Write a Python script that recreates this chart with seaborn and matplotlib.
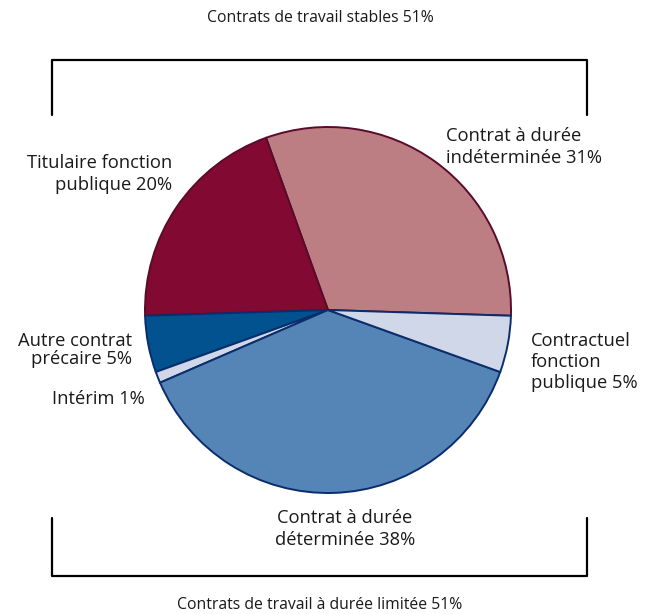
import matplotlib
matplotlib.use("Agg")
import matplotlib.pyplot as plt
import seaborn as sns

# ==================== Data ====================
LABELS = ["Contrat à durée\nindéterminée 31%", "Titulaire fonction\npublique 20%",
          "Autre contrat\nprécaire 5%", "Intérim 1%",
          "Contrat à durée\ndéterminée 38%", "Contractuel\nfonction\npublique 5%"]
SHARES = [31, 20, 5, 1, 38, 5]
COLORS = ["#BC7E82", "#820A32", "#01528F", "#D0D7E8", "#5584B7", "#D0D7E8"]
EDGES = ["#5A0A2A", "#5A0A2A", "#0A2D6B", "#0A2D6B", "#0A2D6B", "#0A2D6B"]
TITLE_TOP = "Contrats de travail stables 51%"
TITLE_BOTTOM = "Contrats de travail à durée limitée 51%"

# ==================== Style ====================
sns.set_theme(style="white")
plt.rcParams["font.family"] = ["Open Sans", "DejaVu Sans"]
FS_LABEL = 13.2
FS_TITLE = 11.3

W, H = 645, 614
fig = plt.figure(figsize=(W / 100, H / 100), dpi=100)
ax = fig.add_axes([0, 0, 1, 1])

wedges, _ = ax.pie(SHARES, colors=COLORS, startangle=-1.8, counterclock=True,
                   center=(328, H - 310), radius=183, frame=True,
                   wedgeprops=dict(linewidth=1.4))
for w, ec in zip(wedges, EDGES):
    w.set_edgecolor(ec)
ax.set_xlim(0, W)
ax.set_ylim(0, H)
ax.set_aspect("equal")
ax.axis("off")

# label placement (pixel positions, measured from top)
label_pos = [
    (446, 147, "left", 1.3),
    (172, 174, "right", 1.3),
    (132, 350, "right", 0.95),
    (145, 399, "right", 1.2),
    (345, 529, "center", 1.3),
    (531, 362, "left", 1.2),
]
for txt, (x, y, ha, ls) in zip(LABELS, label_pos):
    ax.text(x, H - y, txt, ha=ha, va="center", fontsize=FS_LABEL, color="#1a1a1a",
            linespacing=ls, multialignment=ha)

ax.text(320, H - 18, TITLE_TOP, ha="center", va="center", fontsize=FS_TITLE, color="#1a1a1a")
ax.text(320, H - 605, TITLE_BOTTOM, ha="center", va="center", fontsize=FS_TITLE, color="#1a1a1a")

# brackets
ax.plot([52, 52, 587, 587], [H - 115, H - 60, H - 60, H - 115], color="black", lw=1.6)
ax.plot([52, 52, 587, 587], [H - 518, H - 576, H - 576, H - 518], color="black", lw=1.6)

fig.savefig("out.png", dpi=100)
